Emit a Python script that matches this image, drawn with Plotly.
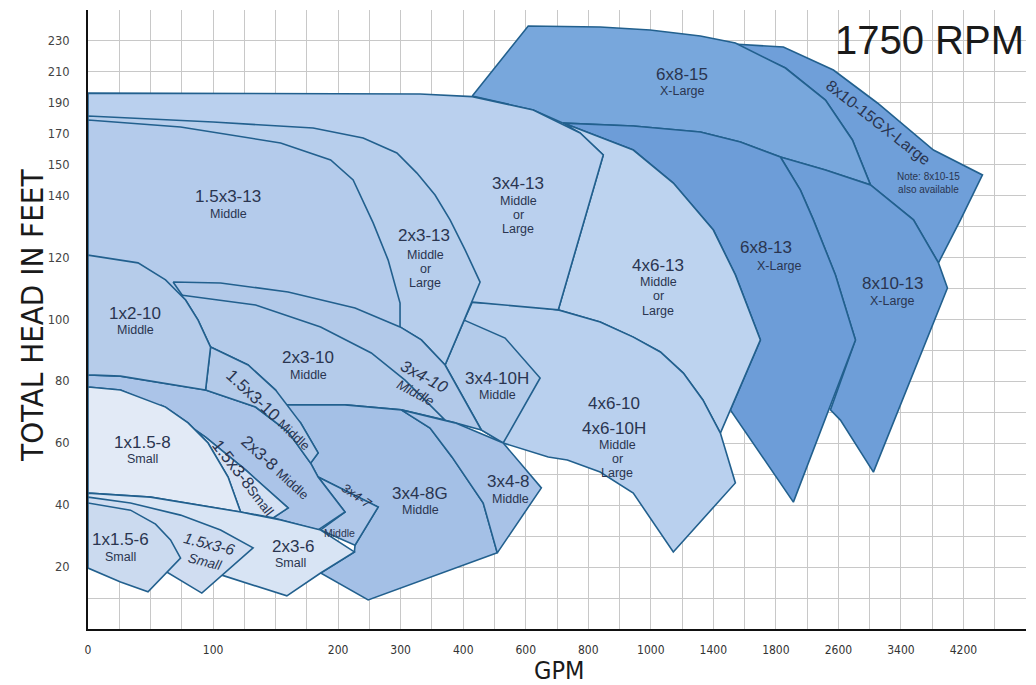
import numpy as np
import plotly.graph_objects as go

# ---- axis scales (tick labels and their grid positions) ----
GPM_TICKS = [0, 100, 200, 300, 400, 600, 800, 1000, 1400, 1800, 2600, 3400, 4200]
GPM_POS = [0, 2, 4, 5, 6, 7, 8, 9, 10, 11, 12, 13, 14]
HEAD_TICKS = [20, 40, 60, 80, 100, 120, 140, 150, 170, 190, 210, 230]
HEAD_POS = [1, 2, 3, 4, 5, 6, 7, 7.5, 8, 8.5, 9, 9.5]
GPM_SCALE = GPM_TICKS + [5000]
GPM_SCALE_POS = GPM_POS + [15]
HEAD_SCALE = [0] + HEAD_TICKS + [250]
HEAD_SCALE_POS = [0] + HEAD_POS + [10]

# ---- pump coverage regions (GPM, head in feet) ----
P8x10_15G_GPM = [1528, 1896, 2536, 3099, 3816, 4443, 4162, 3880, 3560, 3010, 2779, 2434, 1922]
P8x10_15G_FT = [228.0, 226.1, 211.2, 189.9, 159.5, 146.7, 132.2, 118.3, 132.2, 143.5, 166.0, 191.8, 212.5]

P6x8_15_GPM = [429, 608, 838, 998, 1317, 1541, 1922, 2434, 2779, 3010, 2434, 1858, 1573, 1317, 944, 720, 624]
P6x8_15_FT = [194.4, 239.7, 239.0, 237.1, 233.2, 228.7, 212.5, 191.8, 166.0, 143.5, 148.3, 155.0, 164.7, 171.2, 175.0, 176.9, 185.4]

P8x10_13_GPM = [1858, 2434, 3010, 3560, 3880, 3995, 3048, 2626, 2498, 2818, 2562, 2280, 2114]
P8x10_13_FT = [155.0, 148.3, 143.5, 132.2, 118.3, 110.2, 50.7, 67.5, 70.8, 93.4, 114.4, 132.2, 141.8]

P6x8_13_GPM = [720, 944, 1317, 1573, 1858, 2114, 2280, 2562, 2818, 2024, 1509, 1701, 1541, 1400, 1144, 944]
P6x8_13_FT = [176.9, 175.0, 171.2, 164.7, 155.0, 141.8, 132.2, 114.4, 93.4, 41.0, 70.8, 93.4, 114.4, 128.9, 144.1, 159.5]

P4x6_13_GPM = [720, 944, 1144, 1400, 1541, 1701, 1509, 1445, 1333, 1208, 1061, 944, 838, 704, 848, 774]
P4x6_13_FT = [176.9, 159.5, 144.1, 128.9, 114.4, 93.4, 70.8, 63.3, 74.0, 82.7, 89.5, 94.3, 99.2, 103.1, 156.3, 170.5]

P4x6_10_GPM = [429, 582, 704, 838, 944, 1061, 1208, 1333, 1445, 1541, 1144, 944, 838, 733, 672, 528, 458, 398, 371, 403]
P4x6_10_FT = [105.6, 104.7, 103.1, 99.2, 94.3, 89.5, 82.7, 74.0, 63.3, 47.2, 24.9, 43.9, 50.7, 54.6, 55.6, 60.1, 64.3, 75.6, 85.3, 99.8]

P3x4_10H_GPM = [403, 534, 646, 528, 458, 398, 371]
P3x4_10H_FT = [99.8, 94.0, 81.1, 60.1, 64.3, 75.6, 85.3]

P3x4_13_GPM = [0, 331, 429, 624, 774, 848, 704, 429, 0]
P3x4_13_FT = [196.3, 195.7, 194.0, 185.4, 170.5, 156.3, 103.1, 105.6, 105.6]

P2x3_13_GPM = [0, 100, 180, 240, 294, 326, 355, 379, 406, 454, 403, 371, 333, 299, 0]
P2x3_13_FT = [181.5, 177.6, 173.7, 167.3, 157.6, 147.3, 140.2, 132.2, 122.5, 112.1, 99.8, 85.3, 93.4, 97.6, 97.6]

P15x3_13_GPM = [0, 74, 154, 194, 224, 256, 280, 299, 299, 0]
P15x3_13_FT = [178.9, 174.4, 164.1, 153.1, 145.1, 131.2, 119.2, 105.3, 97.6, 97.6]

P3x4_10_GPM = [68, 106, 160, 227, 299, 333, 371, 398, 458, 387, 301, 211, 155, 98, 78]
P3x4_10_FT = [112.1, 111.8, 108.9, 103.7, 97.6, 93.4, 85.3, 75.6, 64.3, 66.6, 70.8, 72.4, 72.4, 91.1, 106.3]

P2x3_10_GPM = [74, 134, 186, 253, 307, 347, 371, 301, 211, 155, 150, 128, 98, 88, 78]
P2x3_10_FT = [107.9, 104.7, 97.6, 89.2, 80.4, 72.4, 67.5, 70.8, 72.4, 72.4, 77.2, 85.3, 91.1, 99.8, 106.3]

P3x4_8G_GPM = [155, 211, 301, 347, 382, 464, 509, 248, 186, 226, 227, 264, 184, 178, 184, 170]
P3x4_8G_FT = [72.4, 72.4, 70.8, 64.9, 55.6, 40.7, 24.6, 9.4, 18.1, 24.9, 27.1, 39.4, 49.1, 53.6, 56.9, 66.6]

P3x4_8_GPM = [301, 387, 528, 650, 509, 464, 382, 347]
P3x4_8_FT = [70.8, 66.6, 60.1, 45.6, 24.6, 40.7, 55.6, 64.9]

P3x4_7_GPM = [184, 264, 227, 186, 211]
P3x4_7_FT = [49.1, 39.4, 27.1, 32.0, 37.8]

P2x3_8_GPM = [0, 26, 94, 134, 160, 178, 184, 211, 184, 148, 160, 126, 94, 58, 26, 0]
P2x3_8_FT = [82.1, 81.7, 77.2, 71.7, 63.7, 53.6, 49.1, 37.8, 32.0, 35.9, 39.1, 51.4, 62.0, 71.7, 77.2, 78.2]

P15x3_10_GPM = [98, 128, 150, 170, 184, 178, 160, 134, 94]
P15x3_10_FT = [91.1, 85.3, 77.2, 66.6, 56.9, 53.6, 63.7, 71.7, 77.2]

P1x2_10_GPM = [0, 40, 62, 78, 88, 98, 94, 26, 0]
P1x2_10_FT = [120.8, 118.3, 112.8, 106.3, 99.8, 91.1, 77.2, 81.7, 82.1]

P15x3_8_GPM = [58, 94, 126, 160, 148, 122, 112, 96, 80, 62]
P15x3_8_FT = [72.4, 62.0, 51.4, 39.1, 35.9, 37.8, 49.1, 60.1, 66.6, 71.7]

P1x15_8_GPM = [0, 26, 62, 80, 96, 112, 122, 50, 0]
P1x15_8_FT = [78.2, 77.2, 71.7, 66.6, 60.1, 49.1, 37.8, 42.6, 43.9]

P2x3_6_GPM = [0, 50, 122, 154, 186, 226, 186, 159, 107, 0]
P2x3_6_FT = [43.9, 42.6, 37.8, 35.2, 32.0, 24.9, 18.1, 10.7, 17.4, 22.3]

P15x3_6_GPM = [0, 34, 74, 106, 132, 91, 63, 0]
P15x3_6_FT = [42.6, 40.7, 36.8, 32.0, 26.2, 11.6, 18.4, 22.3]

P1x15_6_GPM = [0, 34, 54, 66, 74, 48, 26, 0]
P1x15_6_FT = [40.7, 38.4, 33.9, 28.8, 22.9, 12.0, 15.2, 19.7]

# drawing order (back to front) with fill colours
REGIONS = [
    (P8x10_15G_GPM, P8x10_15G_FT, "#6f9fd9"),
    (P6x8_15_GPM, P6x8_15_FT, "#78a7dc"),
    (P8x10_13_GPM, P8x10_13_FT, "#6e9ed8"),
    (P6x8_13_GPM, P6x8_13_FT, "#6d9dd8"),
    (P4x6_13_GPM, P4x6_13_FT, "#bdd3ef"),
    (P4x6_10_GPM, P4x6_10_FT, "#b9d0ee"),
    (P3x4_10H_GPM, P3x4_10H_FT, "#b3cbea"),
    (P3x4_13_GPM, P3x4_13_FT, "#bad0ee"),
    (P2x3_13_GPM, P2x3_13_FT, "#b7ceec"),
    (P15x3_13_GPM, P15x3_13_FT, "#b4cbeb"),
    (P3x4_10_GPM, P3x4_10_FT, "#b2c9e9"),
    (P2x3_10_GPM, P2x3_10_FT, "#b4cbea"),
    (P3x4_8G_GPM, P3x4_8G_FT, "#a4c0e6"),
    (P3x4_8_GPM, P3x4_8_FT, "#a8c2e7"),
    (P3x4_7_GPM, P3x4_7_FT, "#afc7e9"),
    (P2x3_8_GPM, P2x3_8_FT, "#abc4e8"),
    (P15x3_10_GPM, P15x3_10_FT, "#b3cae9"),
    (P1x2_10_GPM, P1x2_10_FT, "#b6ccea"),
    (P15x3_8_GPM, P15x3_8_FT, "#d5e1f3"),
    (P1x15_8_GPM, P1x15_8_FT, "#e2eaf6"),
    (P2x3_6_GPM, P2x3_6_FT, "#d8e4f4"),
    (P15x3_6_GPM, P15x3_6_FT, "#d0ddf1"),
    (P1x15_6_GPM, P1x15_6_FT, "#cbdaef"),
]

NAME = 17
SUB = 12.5
# ---- labels: text, GPM, head, font size, angle ----
LABELS = [
    ("1.5x3-13", 112, 139.9, NAME, 0), ("Middle", 112, 134.1, SUB, 0),
    ("2x3-13", 338, 127.0, NAME, 0), ("Middle", 339, 120.8, SUB, 0),
    ("or", 339, 116.3, SUB, 0), ("Large", 339, 111.7, SUB, 0),
    ("3x4-13", 576, 143.8, NAME, 0), ("Middle", 576, 138.3, SUB, 0),
    ("or", 576, 133.7, SUB, 0), ("Large", 576, 129.1, SUB, 0),
    ("6x8-15", 1202, 208.6, NAME, 0), ("X-Large", 1202, 197.7, SUB, 0),
    ("4x6-13", 1048, 117.6, NAME, 0), ("Middle", 1048, 112.1, SUB, 0),
    ("or", 1048, 107.5, SUB, 0), ("Large", 1048, 102.9, SUB, 0),
    ("6x8-13", 1739, 123.4, NAME, 0), ("X-Large", 1845, 117.3, SUB, 0),
    ("8x10-13", 3291, 111.5, NAME, 0), ("X-Large", 3291, 106.0, SUB, 0),
    ("1x2-10", 37.6, 102.1, NAME, 0), ("Middle", 37.6, 96.6, SUB, 0),
    ("2x3-10", 176, 87.6, NAME, 0), ("Middle", 176, 82.1, SUB, 0),
    ("3x4-10H", 509, 81.1, NAME, 0), ("Middle", 509, 75.6, SUB, 0),
    ("4x6-10", 883, 72.7, NAME, 0),
    ("4x6-10H", 883, 64.9, NAME, 0), ("Middle", 893, 59.4, SUB, 0),
    ("or", 893, 54.9, SUB, 0), ("Large", 893, 50.3, SUB, 0),
    ("1x1.5-8", 43.2, 60.4, NAME, 0), ("Small", 43.2, 54.9, SUB, 0),
    ("3x4-8G", 331, 43.9, NAME, 0), ("Middle", 331, 38.4, SUB, 0),
    ("3x4-8", 544, 47.5, NAME, 0), ("Middle", 550, 42.0, SUB, 0),
    ("1x1.5-6", 25.6, 28.8, NAME, 0), ("Small", 25.6, 23.3, SUB, 0),
    ("2x3-6", 164, 26.8, NAME, 0), ("Small", 162, 21.3, SUB, 0),
    ("8x10-15GX-Large", 3112, 177.6, 16, 38),
    ("Note: 8x10-15<br>also available", 3752, 144.1, 10, 0),
    ("1.5x3-10 <span style='font-size:13px'>Middle</span>", 144, 70.8, 17, 43),
    ("1.5x3-8<span style='font-size:13.5px'>Small</span>", 124, 48.8, 17, 52),
    ("2x3-8 <span style='font-size:13px'>Middle</span>", 150, 52.3, 17, 42),
    ("<i><span style='font-size:16.5px'>3x4-10</span><br>Middle</i>", 331, 79.2, 13.5, 28),
    ("<i>3x4-7</i>", 229, 43.0, 13, 35),
    ("Middle", 202, 31.0, 10.5, 0),
    ("<i><span style='font-size:15.5px'>1.5x3-6</span><br>Small</i>", 95, 24.6, 13.5, 14),
]


def gx(v):
    return np.interp(v, GPM_SCALE, GPM_SCALE_POS)


def gy(v):
    return np.interp(v, HEAD_SCALE, HEAD_SCALE_POS)


fig = go.Figure()
for gpm, ft, color in REGIONS:
    xs = list(gx(gpm)) + [gx(gpm[0])]
    ys = list(gy(ft)) + [gy(ft[0])]
    fig.add_trace(go.Scatter(
        x=xs, y=ys, mode="lines", fill="toself", fillcolor=color,
        line=dict(color="#22608e", width=1.6), hoverinfo="skip", showlegend=False))

LABEL_FONT = "Liberation Sans, Arial, sans-serif"
for text, g, h, size, ang in LABELS:
    fig.add_annotation(x=float(gx(g)), y=float(gy(h)), text=text, showarrow=False,
                       textangle=ang, font=dict(family=LABEL_FONT, size=size, color="#2a3550"),
                       xanchor="center", yanchor="middle")

fig.add_annotation(x=float(gx(3765)), y=float(gy(230.5)), text="1750 RPM", showarrow=False,
                   font=dict(family="Liberation Sans, Arial, sans-serif", size=40, color="#1a1a1a"),
                   xanchor="center", yanchor="middle")

TITLE_FAMILY = "Liberation Sans Narrow, DejaVu Sans Condensed, Arial Narrow, sans-serif"
fig.add_annotation(xref="paper", yref="paper", x=-0.06, y=0.507, text="TOTAL HEAD IN FEET",
                   showarrow=False, textangle=-90, xanchor="center", yanchor="middle",
                   font=dict(family=TITLE_FAMILY, size=31, color="#1a1a1a"))
fig.add_annotation(xref="paper", yref="paper", x=0.5025, y=-0.0665, text="GPM", showarrow=False,
                   xanchor="center", yanchor="middle",
                   font=dict(family=TITLE_FAMILY, size=25, color="#1a1a1a"))

TICK_FONT_X = dict(family="DejaVu Sans Condensed, Liberation Sans Narrow, Arial Narrow, sans-serif",
                   size=12, color="#333333")
TICK_FONT_Y = dict(family="DejaVu Sans, Liberation Sans, sans-serif", size=11.5, color="#444444")
GRID = "#c8c8c8"
fig.update_layout(
    width=1036, height=685,
    margin=dict(l=88, r=10, t=10, b=56),
    paper_bgcolor="white", plot_bgcolor="white",
    xaxis=dict(range=[0, 15], tickvals=GPM_POS, ticktext=[str(v) for v in GPM_TICKS],
               showgrid=True, gridcolor=GRID, gridwidth=1,
               minor=dict(dtick=0.5, tick0=0, showgrid=True, gridcolor=GRID, gridwidth=1),
               showline=True, linecolor="#111111", linewidth=2, ticks="", zeroline=False,
               tickfont=TICK_FONT_X, ticklabelstandoff=9, fixedrange=True),
    yaxis=dict(range=[0, 10], tickvals=HEAD_POS, ticktext=[str(v) for v in HEAD_TICKS],
               showgrid=True, gridcolor=GRID, gridwidth=1,
               minor=dict(dtick=0.5, tick0=0, showgrid=True, gridcolor=GRID, gridwidth=1),
               showline=True, linecolor="#111111", linewidth=2, ticks="", zeroline=False,
               tickfont=TICK_FONT_Y, ticklabelstandoff=14, fixedrange=True),
)

fig.write_html("out.html", config={"displayModeBar": False},
               post_script="document.body.style.margin='0';")
